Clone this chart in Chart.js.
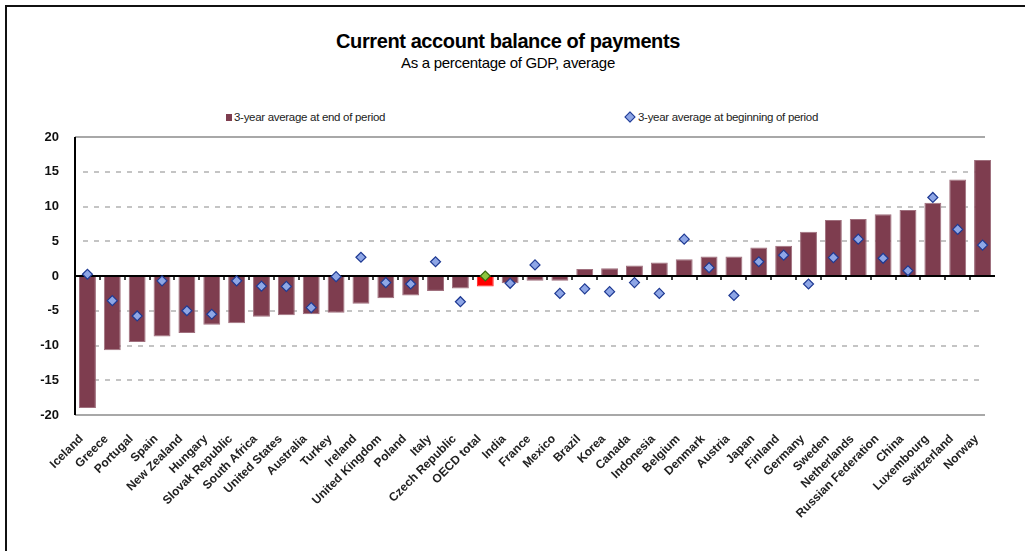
<!DOCTYPE html>
<html>
<head>
<meta charset="utf-8">
<script src="https://cdn.jsdelivr.net/npm/chart.js@4/dist/chart.umd.min.js"></script>
<style>
  html, body { margin:0; padding:0; background:#fff; }
  body { width:1025px; height:551px; position:relative; overflow:hidden; font-family:Arial, "Liberation Sans", sans-serif; }
  #frame { position:absolute; left:5px; top:5px; width:1030px; height:560px; border-top:2px solid #111; border-left:2px solid #111; box-shadow: -1px -1px 0 #999 inset; }
  #title { position:absolute; left:0; width:1016px; top:30px; text-align:center; font-weight:bold; font-size:20px; color:#000; letter-spacing:-0.4px; }
  #subtitle { position:absolute; left:0; width:1016px; top:54px; text-align:center; font-size:15px; color:#000; letter-spacing:-0.3px; }
  .leg { position:absolute; top:111px; font-size:11.5px; color:#222; white-space:nowrap; letter-spacing:-0.3px; }
  .sq { display:inline-block; width:6px; height:7px; background:#7e3d4f; margin-right:2px; vertical-align:-0px; }
  .dm { display:inline-block; width:6px; height:6px; background:#8ea6e6; border:1px solid #1f3a93; transform:rotate(45deg); margin-right:4px; margin-left:2px; vertical-align:0px; }
  #c { position:absolute; left:0; top:0; }
</style>
</head>
<body>
<div id="frame"></div>
<div id="title">Current account balance of payments</div>
<div id="subtitle">As a percentage of GDP, average</div>
<div class="leg" style="left:226px;"><span class="sq"></span>3-year average at end of period</div>
<div class="leg" style="left:624px;"><span class="dm"></span>3-year average at beginning of period</div>
<canvas id="c" width="1025" height="551"></canvas>
<script>
const categories = ["Iceland","Greece","Portugal","Spain","New Zealand","Hungary","Slovak Republic","South Africa","United States","Australia","Turkey","Ireland","United Kingdom","Poland","Italy","Czech Republic","OECD total","India","France","Mexico","Brazil","Korea","Canada","Indonesia","Belgium","Denmark","Austria","Japan","Finland","Germany","Sweden","Netherlands","Russian Federation","China","Luxembourg","Switzerland","Norway"];
const endPeriod = [-19.0,-10.7,-9.5,-8.7,-8.2,-7.0,-6.8,-5.85,-5.65,-5.5,-5.3,-4.0,-3.2,-2.8,-2.15,-1.8,-1.5,-1.05,-0.7,-0.7,1.0,1.1,1.5,1.95,2.4,2.8,2.8,4.1,4.35,6.35,8.05,8.2,8.9,9.5,10.55,13.9,16.7];
const beginPeriod = [0.25,-3.55,-5.75,-0.7,-5.0,-5.5,-0.7,-1.45,-1.5,-4.55,-0.1,2.7,-0.95,-1.15,2.05,-3.7,0.0,-1.05,1.6,-2.5,-1.85,-2.25,-0.95,-2.5,5.3,1.2,-2.8,2.05,3.0,-1.15,2.65,5.3,2.55,0.75,11.3,6.7,4.45];
const yTicks = [20,15,10,5,0,-5,-10,-15,-20];
const highlight = "OECD total";

const barColor = '#7e3d4f';
const barColors = categories.map(c => c === highlight ? '#ff0000' : barColor);
const barBorders = categories.map(c => c === highlight ? '#ff2020' : '#a0707e');
const ptFill = categories.map(c => c === highlight ? '#8cc63f' : '#8ea6e6');
const ptBorder = categories.map(c => c === highlight ? '#3a6a10' : '#1f3a93');

const decor = {
  id: 'decor',
  beforeDatasetsDraw(chart) {
    const {ctx, chartArea: a, scales: {y}} = chart;
    const r = a.right - 10;
    ctx.save();
    ctx.lineWidth = 2;
    ctx.strokeStyle = '#c4c4c4';
    ctx.setLineDash([5,6]);
    yTicks.forEach(v => {
      if (v === 0 || v === 20 || v === -20) return;
      const py = Math.round(y.getPixelForValue(v));
      ctx.beginPath(); ctx.moveTo(a.left + 8, py); ctx.lineTo(r, py); ctx.stroke();
    });
    ctx.setLineDash([]);
    ctx.strokeStyle = '#a8a8a8';
    [20,-20].forEach(v => {
      const py = Math.round(y.getPixelForValue(v));
      ctx.beginPath(); ctx.moveTo(a.left, py); ctx.lineTo(r, py); ctx.stroke();
    });
    ctx.strokeStyle = '#000';
    ctx.beginPath(); ctx.moveTo(a.left, y.getPixelForValue(20)); ctx.lineTo(a.left, y.getPixelForValue(-20)); ctx.stroke();
    ctx.restore();
  },
  afterDatasetDraw(chart, args) {
    if (args.index !== 0) return;
    const {ctx, chartArea: a, scales: {x, y}} = chart;
    const py = Math.round(y.getPixelForValue(0));
    ctx.save();
    ctx.strokeStyle = '#000';
    ctx.lineWidth = 2;
    ctx.beginPath(); ctx.moveTo(a.left, py); ctx.lineTo(a.right, py); ctx.stroke();
    ctx.lineWidth = 1.5;
    for (let i = 1; i < categories.length; i++) {
      const bx = Math.round((x.getPixelForValue(i - 1) + x.getPixelForValue(i)) / 2);
      ctx.beginPath(); ctx.moveTo(bx, py); ctx.lineTo(bx, py + 4); ctx.stroke();
    }
    ctx.restore();
  }
};

new Chart(document.getElementById('c'), {
  data: {
    labels: categories,
    datasets: [
      {
        type: 'bar', label: '3-year average at end of period', data: endPeriod,
        backgroundColor: barColors, borderColor: barBorders, borderWidth: 1,
        categoryPercentage: 1, barPercentage: 0.68, order: 2
      },
      {
        type: 'line', label: '3-year average at beginning of period', data: beginPeriod,
        showLine: false, pointStyle: 'rectRot', pointRadius: 5, pointHoverRadius: 5,
        pointBackgroundColor: ptFill, pointBorderColor: ptBorder, pointBorderWidth: 1.2, order: 1
      }
    ]
  },
  options: {
    responsive: false,
    animation: false,
    layout: { padding: { top: 137, right: 30, left: 0, bottom: 0 } },
    plugins: { legend: { display: false }, title: { display: false }, tooltip: { enabled: false } },
    scales: {
      x: {
        type: 'category', offset: true,
        grid: { display: false },
        border: { display: false },
        ticks: {
          autoSkip: false, maxRotation: 45, minRotation: 45, padding: 9, labelOffset: -6,
          color: '#222', font: { family: 'Arial, "Liberation Sans", sans-serif', size: 12, weight: 'bold' }
        },
        afterFit(s) { s.height = 136; }
      },
      y: {
        min: -20, max: 20,
        afterBuildTicks(s) { s.ticks = yTicks.map(v => ({ value: v })); },
        grid: { display: false },
        border: { display: false },
        ticks: {
          padding: 8, color: '#111',
          font: { family: 'Arial, "Liberation Sans", sans-serif', size: 13, weight: 'bold' }
        },
        afterFit(s) { s.width = 75; }
      }
    }
  },
  plugins: [decor]
});
</script>
</body>
</html>
